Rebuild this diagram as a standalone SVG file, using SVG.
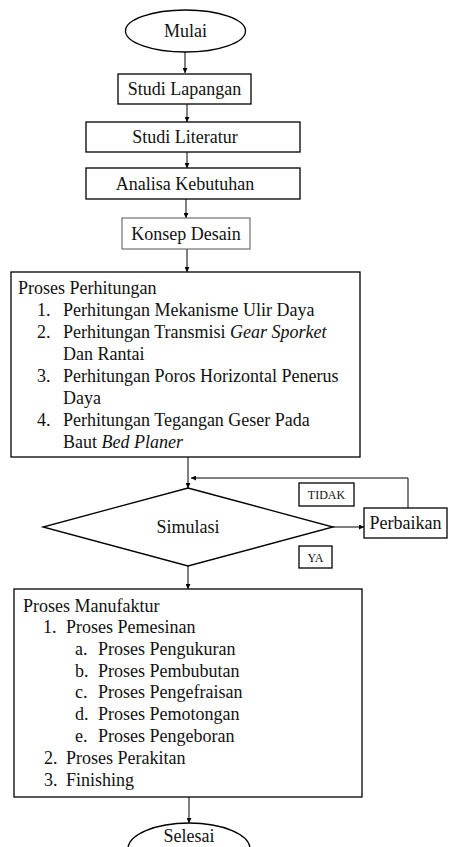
<svg xmlns="http://www.w3.org/2000/svg" width="451" height="847" viewBox="0 0 451 847">
<defs>
<marker id="ah" viewBox="0 0 10 10" refX="10" refY="5" markerWidth="5" markerHeight="5" markerUnits="userSpaceOnUse" orient="auto"><path d="M0,0 L10,5 L0,10 Z" fill="#000"/></marker>
<style>
.box{fill:#fff;stroke:#000;stroke-width:1.3}
.lt{fill:#fff;stroke:#555;stroke-width:1}
.t{font-family:"Liberation Serif","Times New Roman",serif;font-size:18px;fill:#111}
.c{text-anchor:middle}
.s{font-family:"Liberation Serif","Times New Roman",serif;font-size:12px;fill:#111;text-anchor:middle}
.ln{fill:none;stroke:#000;stroke-width:1}
.i{font-style:italic}
</style>
</defs>
<rect width="451" height="847" fill="#fff"/>
<g id="connectors">
<line class="ln" x1="185" y1="52" x2="185" y2="73" marker-end="url(#ah)"/>
<line class="ln" x1="187" y1="104" x2="187" y2="122" marker-end="url(#ah)"/>
<line class="ln" x1="187" y1="152" x2="187" y2="168" marker-end="url(#ah)"/>
<line class="ln" x1="186" y1="199" x2="186" y2="218" marker-end="url(#ah)"/>
<line class="ln" x1="187" y1="249" x2="187" y2="272" stroke="#777" marker-end="url(#ah)"/>
<line class="ln" x1="188" y1="457" x2="188" y2="488" marker-end="url(#ah)"/>
<polyline class="ln" points="408,508 408,478 191,478" marker-end="url(#ah)"/>
<line class="ln" x1="333" y1="527" x2="364" y2="527" marker-end="url(#ah)"/>
<line class="ln" x1="188" y1="566" x2="188" y2="589" marker-end="url(#ah)"/>
<line class="ln" x1="189" y1="797" x2="189" y2="823" marker-end="url(#ah)"/>
</g>
<g id="mulai"><ellipse class="box" cx="185.5" cy="31" rx="60" ry="21"/><text class="t c" x="185.5" y="37">Mulai</text></g>
<g id="studi-lapangan"><rect class="box" x="118" y="74" width="133" height="30"/><text class="t c" x="184.5" y="95">Studi Lapangan</text></g>
<g id="studi-literatur"><rect class="box" x="86" y="122" width="214" height="30"/><text class="t c" x="185" y="143">Studi Literatur</text></g>
<g id="analisa-kebutuhan"><rect class="box" x="86" y="168" width="214" height="31"/><text class="t c" x="185" y="190">Analisa Kebutuhan</text></g>
<g id="konsep-desain"><rect class="lt" x="122" y="218" width="128" height="31"/><text class="t c" x="186" y="240">Konsep Desain</text></g>
<g id="proses-perhitungan">
<rect class="box" x="11" y="272" width="349" height="185"/>
<text class="t" x="18" y="294">Proses Perhitungan</text>
<text class="t" x="37" y="316">1.</text><text class="t" x="63" y="316">Perhitungan Mekanisme Ulir Daya</text>
<text class="t" x="37" y="338">2.</text><text class="t" x="63" y="338">Perhitungan Transmisi <tspan class="i">Gear Sporket</tspan></text>
<text class="t" x="63" y="360">Dan Rantai</text>
<text class="t" x="37" y="382">3.</text><text class="t" x="63" y="382">Perhitungan Poros Horizontal Penerus</text>
<text class="t" x="63" y="404">Daya</text>
<text class="t" x="37" y="426">4.</text><text class="t" x="63" y="426">Perhitungan Tegangan Geser Pada</text>
<text class="t" x="63" y="448">Baut <tspan class="i">Bed Planer</tspan></text>
</g>
<g id="simulasi"><polygon class="box" points="188,488 333,527 188,566 43,527" stroke-width="1.5"/><text class="t c" x="188" y="533">Simulasi</text></g>
<g id="perbaikan"><rect class="box" x="364" y="508" width="83" height="30"/><text class="t c" x="405.5" y="529">Perbaikan</text></g>
<g id="label-tidak"><rect class="box" x="299" y="483" width="55" height="23"/><text class="s" x="326.5" y="499">TIDAK</text></g>
<g id="label-ya"><rect class="box" x="299" y="546" width="33" height="22"/><text class="s" x="315.5" y="562">YA</text></g>
<g id="proses-manufaktur">
<rect class="box" x="14" y="589" width="348" height="208"/>
<text class="t" x="23" y="612">Proses Manufaktur</text>
<text class="t" x="43" y="633">1.</text><text class="t" x="66" y="633">Proses Pemesinan</text>
<text class="t" x="75" y="655">a.</text><text class="t" x="98" y="655">Proses Pengukuran</text>
<text class="t" x="75" y="677">b.</text><text class="t" x="98" y="677">Proses Pembubutan</text>
<text class="t" x="75" y="698">c.</text><text class="t" x="98" y="698">Proses Pengefraisan</text>
<text class="t" x="75" y="720">d.</text><text class="t" x="98" y="720">Proses Pemotongan</text>
<text class="t" x="75" y="742">e.</text><text class="t" x="98" y="742">Proses Pengeboran</text>
<text class="t" x="44" y="764">2.</text><text class="t" x="66" y="764">Proses Perakitan</text>
<text class="t" x="44" y="786">3.</text><text class="t" x="66" y="786">Finishing</text>
</g>
<g id="selesai"><ellipse class="box" cx="189" cy="849" rx="61" ry="26"/><text class="t c" x="189" y="842">Selesai</text></g>
</svg>
